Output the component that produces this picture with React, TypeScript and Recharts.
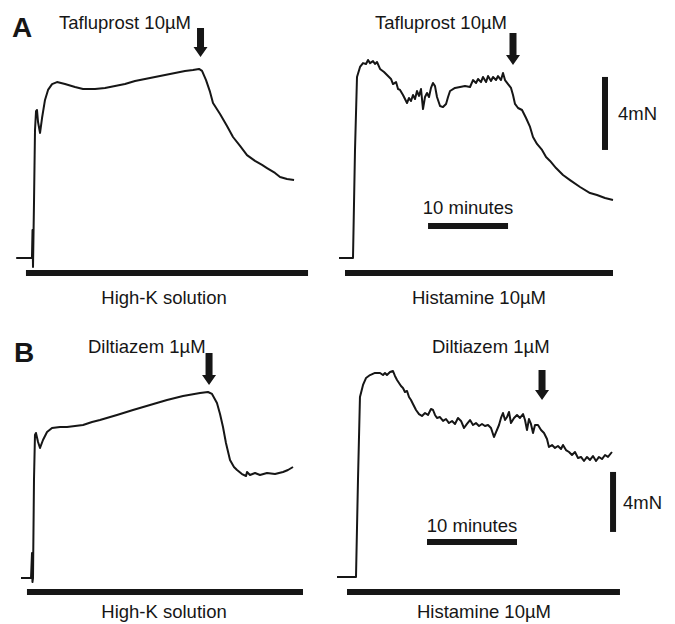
import React from 'react';
import { LineChart, Line, XAxis, YAxis, ReferenceLine } from 'recharts';

const FONT = '"Liberation Sans", Arial, Helvetica, sans-serif';
const INK = '#161616';

// ---- Traces: [time (min from stimulus onset), tension (mN above baseline)] ----
const traceHighKTafluprost: [number, number][] = [
  [-2.1, 0], [-0.13, 0], [-0.06, 1.53], [0, -0.49], [0.13, 3.18], [0.25, 7.01], [0.38, 8.05],
  [0.5, 8.11], [0.63, 7.45], [0.88, 6.85], [1.13, 7.67], [1.5, 8.66], [1.88, 9.21], [2.38, 9.53],
  [3.0, 9.64], [4.0, 9.53], [5.25, 9.37], [6.25, 9.26], [7.75, 9.26], [9.0, 9.32], [10.25, 9.42],
  [11.5, 9.53], [12.75, 9.7], [14.0, 9.81], [15.25, 9.92], [16.5, 10.03], [17.75, 10.14],
  [19.0, 10.25], [20.0, 10.3], [20.75, 10.36], [21.13, 10.25], [21.63, 9.75], [22.13, 9.1],
  [22.5, 8.49], [23.38, 7.89], [24.25, 7.23], [25.0, 6.63], [25.88, 6.14], [26.75, 5.64],
  [27.75, 5.32], [28.63, 5.1], [29.25, 4.93], [30.25, 4.66], [30.88, 4.44], [31.75, 4.33], [32.63, 4.27],
];

const traceHistamineTafluprost: [number, number][] = [
  [-1.75, 0], [-0.13, 0], [0, 0], [0.25, 5.92], [0.5, 9.92], [0.88, 10.47], [1.25, 10.68],
  [1.63, 10.63], [1.88, 10.85], [2.13, 10.68], [2.5, 10.79], [2.75, 10.63], [3.0, 10.74],
  [3.38, 10.36], [3.88, 10.19], [4.38, 9.97], [4.75, 9.81], [5.0, 9.53], [5.38, 9.64], [5.63, 9.26],
  [5.88, 9.21], [6.25, 8.93], [6.5, 8.71], [6.75, 8.49], [7.0, 8.77], [7.25, 8.6], [7.5, 8.93],
  [7.75, 8.71], [8.0, 9.15], [8.25, 8.88], [8.5, 9.26], [8.75, 8.16], [9.0, 8.82], [9.25, 9.04],
  [9.5, 8.82], [9.75, 9.32], [10.0, 9.59], [10.25, 9.42], [10.5, 8.82], [10.88, 8.33], [11.25, 8.27],
  [11.63, 8.44], [11.88, 8.82], [12.13, 9.15], [12.75, 9.32], [13.38, 9.37], [14.0, 9.42],
  [14.63, 9.37], [15.0, 9.75], [15.38, 9.59], [15.63, 9.81], [16.0, 9.64], [16.25, 9.92],
  [16.63, 9.64], [16.88, 9.97], [17.25, 9.7], [17.5, 9.92], [17.88, 9.75], [18.13, 9.97],
  [18.5, 9.75], [18.75, 10.14], [19.0, 9.75], [19.38, 9.53], [19.75, 9.32], [20.0, 8.93],
  [20.25, 8.44], [20.63, 8.22], [21.13, 8.11], [21.63, 7.67], [22.13, 7.18], [22.5, 6.63],
  [23.0, 6.25], [23.63, 5.92], [24.13, 5.53], [24.63, 5.32], [25.38, 4.93], [26.25, 4.55],
  [27.13, 4.27], [28.38, 3.89], [29.63, 3.56], [30.5, 3.45], [31.5, 3.29], [32.5, 3.18],
];

const traceHighKDiltiazem: [number, number][] = [
  [-1.33, 0], [-0.22, 0], [-0.11, 1.67], [-0.06, -0.27], [0, 0], [0.11, 6.53], [0.22, 9.53],
  [0.33, 9.67], [0.56, 9.07], [0.78, 8.67], [1.11, 9.2], [1.56, 9.73], [2.11, 10.0], [3.0, 10.07],
  [3.78, 10.07], [4.67, 10.13], [5.56, 10.2], [6.56, 10.4], [7.44, 10.53], [9.33, 10.87],
  [11.11, 11.2], [13.0, 11.53], [14.89, 11.87], [16.67, 12.13], [18.56, 12.33], [19.44, 12.4],
  [19.89, 12.27], [20.44, 11.67], [20.78, 10.93], [21.11, 10.07], [21.44, 9.0], [21.89, 7.87],
  [22.33, 7.4], [22.67, 7.2], [23.22, 6.93], [23.67, 6.8], [23.78, 7.07], [24.11, 6.87],
  [24.67, 7.0], [25.22, 6.87], [26.0, 7.0], [26.89, 6.93], [27.78, 7.07], [28.33, 7.2], [28.89, 7.4],
];

const traceHistamineDiltiazem: [number, number][] = [
  [-3.44, 0.07], [-0.11, 0.07], [0, 0.07], [0.22, 6.53], [0.44, 12.07], [0.78, 12.87],
  [1.11, 13.33], [1.56, 13.53], [2.11, 13.67], [2.67, 13.67], [3.0, 13.53], [3.22, 13.67],
  [3.44, 13.53], [3.78, 13.73], [4.11, 13.8], [4.33, 13.47], [4.56, 13.2], [4.78, 13.0],
  [5.0, 12.8], [5.22, 12.67], [5.44, 12.4], [5.67, 12.47], [5.89, 12.07], [6.11, 11.87],
  [6.33, 11.6], [6.67, 11.2], [7.0, 10.93], [7.33, 10.8], [7.67, 11.0], [8.0, 10.87],
  [8.33, 11.27], [8.56, 11.2], [8.78, 10.87], [9.0, 10.67], [9.33, 10.73], [9.67, 10.47],
  [10.0, 10.6], [10.33, 10.33], [10.67, 10.47], [11.0, 10.27], [11.33, 10.67], [11.67, 10.47],
  [12.0, 10.0], [12.33, 10.27], [12.67, 10.53], [13.0, 10.2], [13.33, 10.33], [13.67, 10.13],
  [14.0, 10.27], [14.33, 10.13], [14.67, 10.2], [15.0, 10.0], [15.33, 9.4], [15.56, 9.73],
  [15.89, 10.2], [16.11, 10.67], [16.33, 11.0], [16.56, 10.53], [16.78, 10.73], [17.0, 11.07],
  [17.22, 10.33], [17.56, 10.67], [17.89, 10.87], [18.22, 10.67], [18.56, 10.93], [18.78, 10.53],
  [19.0, 9.87], [19.22, 10.6], [19.44, 10.27], [19.67, 9.67], [19.89, 10.2], [20.22, 10.2],
  [20.56, 9.87], [20.89, 9.67], [21.22, 9.27], [21.44, 8.73], [21.78, 8.87], [22.11, 8.67],
  [22.44, 8.8], [22.78, 8.6], [23.0, 8.87], [23.33, 8.53], [23.67, 8.4], [24.0, 8.2],
  [24.33, 8.4], [24.67, 8.0], [25.0, 8.07], [25.33, 7.8], [25.67, 8.07], [26.0, 7.87],
  [26.33, 8.13], [26.67, 7.8], [27.0, 8.07], [27.33, 7.93], [27.67, 8.2], [28.0, 8.07], [28.44, 8.4],
];

// ---- Annotations (data units) ----
// solution bars: [t start, t end, level mN]
const barHighKA: [number, number, number] = [-0.88, 34.38, -0.82];
const barHistamineA: [number, number, number] = [-1.0, 32.5, -0.82];
const barHighKB: [number, number, number] = [-0.67, 30.0, -0.93];
const barHistamineB: [number, number, number] = [-1.0, 29.33, -0.93];
// drug application arrows: [t, top mN, tip mN]
const arrowTafluprostHighK: [number, number, number] = [20.94, 12.6, 11.01];
const arrowTafluprostHist: [number, number, number] = [20.0, 12.33, 10.58];
const arrowDiltiazemHighK: [number, number, number] = [19.56, 15.0, 12.87];
const arrowDiltiazemHist: [number, number, number] = [20.67, 13.87, 11.87];
// 10-minute scale bars: [t start, t end, level]
const timeScaleA: [number, number, number] = [9.38, 19.38, 1.75];
const timeScaleB: [number, number, number] = [7.89, 17.89, 2.4];
// 4 mN scale bars: [t, bottom, top]
const forceScaleA: [number, number, number] = [31.5, 5.92, 9.92];
const forceScaleB: [number, number, number] = [28.56, 3.07, 7.07];

type PanelDef = {
  id: string;
  trace: [number, number][];
  bar: [number, number, number];
  arrow: [number, number, number];
  timeBar?: [number, number, number];
  forceBar?: [number, number, number];
  frame: { left: number; top: number; width: number; height: number; onset: number; base: number; pxMin: number; pxMN: number };
};

const panels: PanelDef[] = [
  { id: 'AL', trace: traceHighKTafluprost, bar: barHighKA, arrow: arrowTafluprostHighK,
    frame: { left: 0, top: 0, width: 337, height: 310, onset: 33, base: 258, pxMin: 8, pxMN: 18.25 } },
  { id: 'AR', trace: traceHistamineTafluprost, bar: barHistamineA, arrow: arrowTafluprostHist,
    timeBar: timeScaleA, forceBar: forceScaleA,
    frame: { left: 337, top: 0, width: 338, height: 310, onset: 353, base: 258, pxMin: 8, pxMN: 18.25 } },
  { id: 'BL', trace: traceHighKDiltiazem, bar: barHighKB, arrow: arrowDiltiazemHighK,
    frame: { left: 0, top: 310, width: 337, height: 314, onset: 33, base: 578, pxMin: 9, pxMN: 15 } },
  { id: 'BR', trace: traceHistamineDiltiazem, bar: barHistamineB, arrow: arrowDiltiazemHist,
    timeBar: timeScaleB, forceBar: forceScaleB,
    frame: { left: 337, top: 310, width: 338, height: 314, onset: 356, base: 578, pxMin: 9, pxMN: 15 } },
];

const ArrowShape = (p: any) => {
  const { x1, y1, y2 } = p;
  const head = 10;
  const hw = 7;
  const sw = 3.5;
  const yb = y2 - head;
  return (
    <path
      d={`M${x1 - sw},${y1} L${x1 + sw},${y1} L${x1 + sw},${yb} L${x1 + hw},${yb} L${x1},${y2} L${x1 - hw},${yb} L${x1 - sw},${yb} Z`}
      fill={INK}
    />
  );
};

function Panel({ def }: { def: PanelDef }) {
  const f = def.frame;
  const xMin = (0 - (f.onset - f.left)) / f.pxMin;
  const xMax = (f.left + f.width - f.onset) / f.pxMin;
  const yMax = (f.base - f.top) / f.pxMN;
  const yMin = (f.base - (f.top + f.height)) / f.pxMN;
  const data = def.trace.map(([t, v]) => ({ t, v }));
  return (
    <div style={{ position: 'absolute', left: f.left, top: f.top, width: f.width, height: f.height }}>
      <LineChart width={f.width} height={f.height} data={data} margin={{ top: 0, right: 0, bottom: 0, left: 0 }}>
        <XAxis type="number" dataKey="t" domain={[xMin, xMax]} hide allowDataOverflow />
        <YAxis type="number" domain={[yMin, yMax]} hide allowDataOverflow width={0} />
        <ReferenceLine
          segment={[{ x: def.bar[0], y: def.bar[2] }, { x: def.bar[1], y: def.bar[2] }]}
          stroke={INK} strokeWidth={6} ifOverflow="visible"
        />
        <ReferenceLine
          segment={[{ x: def.arrow[0], y: def.arrow[1] }, { x: def.arrow[0], y: def.arrow[2] }]}
          shape={ArrowShape} ifOverflow="visible"
        />
        {def.timeBar && (
          <ReferenceLine
            segment={[{ x: def.timeBar[0], y: def.timeBar[2] }, { x: def.timeBar[1], y: def.timeBar[2] }]}
            stroke={INK} strokeWidth={6} ifOverflow="visible"
          />
        )}
        {def.forceBar && (
          <ReferenceLine
            segment={[{ x: def.forceBar[0], y: def.forceBar[1] }, { x: def.forceBar[0], y: def.forceBar[2] }]}
            stroke={INK} strokeWidth={6} ifOverflow="visible"
          />
        )}
        <Line
          type="linear" dataKey="v" stroke={INK} strokeWidth={2} dot={false} activeDot={false}
          isAnimationActive={false} strokeLinejoin="round"
        />
      </LineChart>
    </div>
  );
}

const textStyle = { fontFamily: FONT, fontSize: 18.5, fill: INK } as const;

export default function App() {
  return (
    <div style={{ position: 'absolute', left: 0, top: 0, width: 675, height: 624, background: '#fff', overflow: 'hidden' }}>
      {panels.map((p) => (
        <Panel key={p.id} def={p} />
      ))}
      <svg width={675} height={624} style={{ position: 'absolute', left: 0, top: 0, pointerEvents: 'none' }}>
        <text x={12} y={37} style={{ ...textStyle, fontSize: 28, fontWeight: 700 }}>A</text>
        <text x={59} y={28.5} style={textStyle}>Tafluprost 10µM</text>
        <text x={375} y={28.5} style={textStyle}>Tafluprost 10µM</text>
        <text x={618} y={119.5} style={textStyle}>4mN</text>
        <text x={468} y={213.5} textAnchor="middle" style={textStyle}>10 minutes</text>
        <text x={164} y={304} textAnchor="middle" style={textStyle}>High-K solution</text>
        <text x={479} y={304} textAnchor="middle" style={textStyle}>Histamine 10µM</text>

        <text x={14} y={362} style={{ ...textStyle, fontSize: 28, fontWeight: 700 }}>B</text>
        <text x={88} y={353} style={textStyle}>Diltiazem 1µM</text>
        <text x={432} y={353} style={textStyle}>Diltiazem 1µM</text>
        <text x={623} y={508.5} style={textStyle}>4mN</text>
        <text x={472} y={531.5} textAnchor="middle" style={textStyle}>10 minutes</text>
        <text x={164} y={618} textAnchor="middle" style={textStyle}>High-K solution</text>
        <text x={484} y={618} textAnchor="middle" style={textStyle}>Histamine 10µM</text>
      </svg>
    </div>
  );
}
